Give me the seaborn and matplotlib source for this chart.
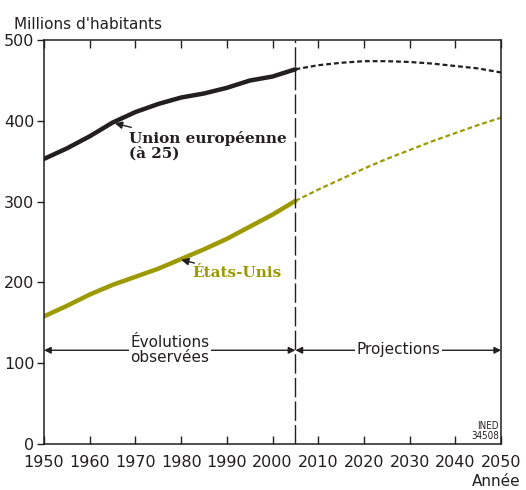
import matplotlib
matplotlib.use("Agg")
import matplotlib.pyplot as plt
import seaborn as sns
import pandas as pd

sns.set_style("ticks")
plt.rcParams['font.family'] = ['DejaVu Sans']

# Data (millions d'habitants)
years_obs = [1950, 1955, 1960, 1965, 1970, 1975, 1980, 1985, 1990, 1995, 2000, 2005]
eu_obs = [353, 366, 381, 398, 411, 421, 429, 434, 441, 450, 455, 464]
us_obs = [158, 171, 185, 197, 207, 217, 229, 241, 254, 269, 284, 301]

years_proj = [2005, 2010, 2015, 2020, 2025, 2030, 2035, 2040, 2045, 2050]
eu_proj = [464, 469, 472, 474, 474, 473, 471, 468, 465, 460]
us_proj = [301, 315, 328, 341, 353, 364, 375, 385, 395, 404]

olive = "#9c9a00"
ink = "#231f20"

obs = pd.DataFrame({"Année": years_obs * 2,
                    "Pop": eu_obs + us_obs,
                    "Zone": ["UE"] * len(years_obs) + ["US"] * len(years_obs)})
proj = pd.DataFrame({"Année": years_proj * 2,
                     "Pop": eu_proj + us_proj,
                     "Zone": ["UE"] * len(years_proj) + ["US"] * len(years_proj)})

fig = plt.figure(figsize=(5.26, 4.9), dpi=100)
ax = fig.add_axes([0.0837, 0.094, 0.869, 0.824])

pal = {"UE": ink, "US": olive}
sns.lineplot(data=obs, x="Année", y="Pop", hue="Zone", palette=pal, lw=3.2,
             legend=False, ax=ax)
sns.lineplot(data=proj, x="Année", y="Pop", hue="Zone", palette=pal, lw=1.6,
             legend=False, ax=ax)
for l in ax.lines[2:]:
    l.set_dashes([2.2, 1.3])

ax.set_xlim(1950, 2050)
ax.set_ylim(0, 500)
ax.set_xticks(range(1950, 2051, 10))
ax.set_yticks(range(0, 501, 100))
ax.tick_params(direction="in", length=6, width=1, labelsize=11.5, top=True,
               left=True, right=False, colors=ink)
ax.tick_params(axis="x", pad=8)
ax.tick_params(axis="y", direction="out", length=5, pad=2)
for s in ax.spines.values():
    s.set_linewidth(1.1)
    s.set_color(ink)
ax.set_xlabel("")
ax.set_ylabel("")

# vertical separator at 2005
ax.axvline(2005, color=ink, lw=1, dashes=[14, 3])

# labels
ax.annotate("Union européenne\n(à 25)", xy=(1965.5, 397), xytext=(1968.5, 388),
            fontsize=11, fontweight="bold", family="DejaVu Serif", va="top",
            color=ink, linespacing=1.1,
            arrowprops=dict(arrowstyle="-|>", color=ink, lw=1, shrinkA=0, shrinkB=0))
ax.annotate("États-Unis", xy=(1980, 228), xytext=(1982.5, 220),
            fontsize=11, fontweight="bold", family="DejaVu Serif", va="top",
            color=olive,
            arrowprops=dict(arrowstyle="-|>", color=ink, lw=1, shrinkA=0, shrinkB=0))

# period arrows
arrow_y = 116
ap = dict(arrowstyle="<|-|>", color=ink, lw=1, shrinkA=0, shrinkB=0,
          mutation_scale=10)
ax.annotate("", xy=(1950, arrow_y), xytext=(2005, arrow_y), arrowprops=ap)
ax.annotate("", xy=(2005, arrow_y), xytext=(2050, arrow_y), arrowprops=ap)
ax.text(1977.5, arrow_y, "Évolutions\nobservées", ha="center", va="center",
        multialignment="center", fontsize=11, linespacing=1.0, color=ink,
        bbox=dict(facecolor="white", edgecolor="none", pad=1))
ax.text(2027.5, arrow_y + 1, "Projections", ha="center", va="center",
        fontsize=11, color=ink, bbox=dict(facecolor="white", edgecolor="none", pad=1))

ax.text(2049.5, 4, "INED\n34508", ha="right", va="bottom", fontsize=7,
        fontstretch="condensed", linespacing=1.0, color=ink)

fig.text(0.027, 0.935, "Millions d'habitants", fontsize=11, ha="left",
         va="bottom", color=ink)
fig.text(0.99, 0.003, "Année", fontsize=11, ha="right", va="bottom", color=ink)

fig.savefig("out.png", dpi=100)
